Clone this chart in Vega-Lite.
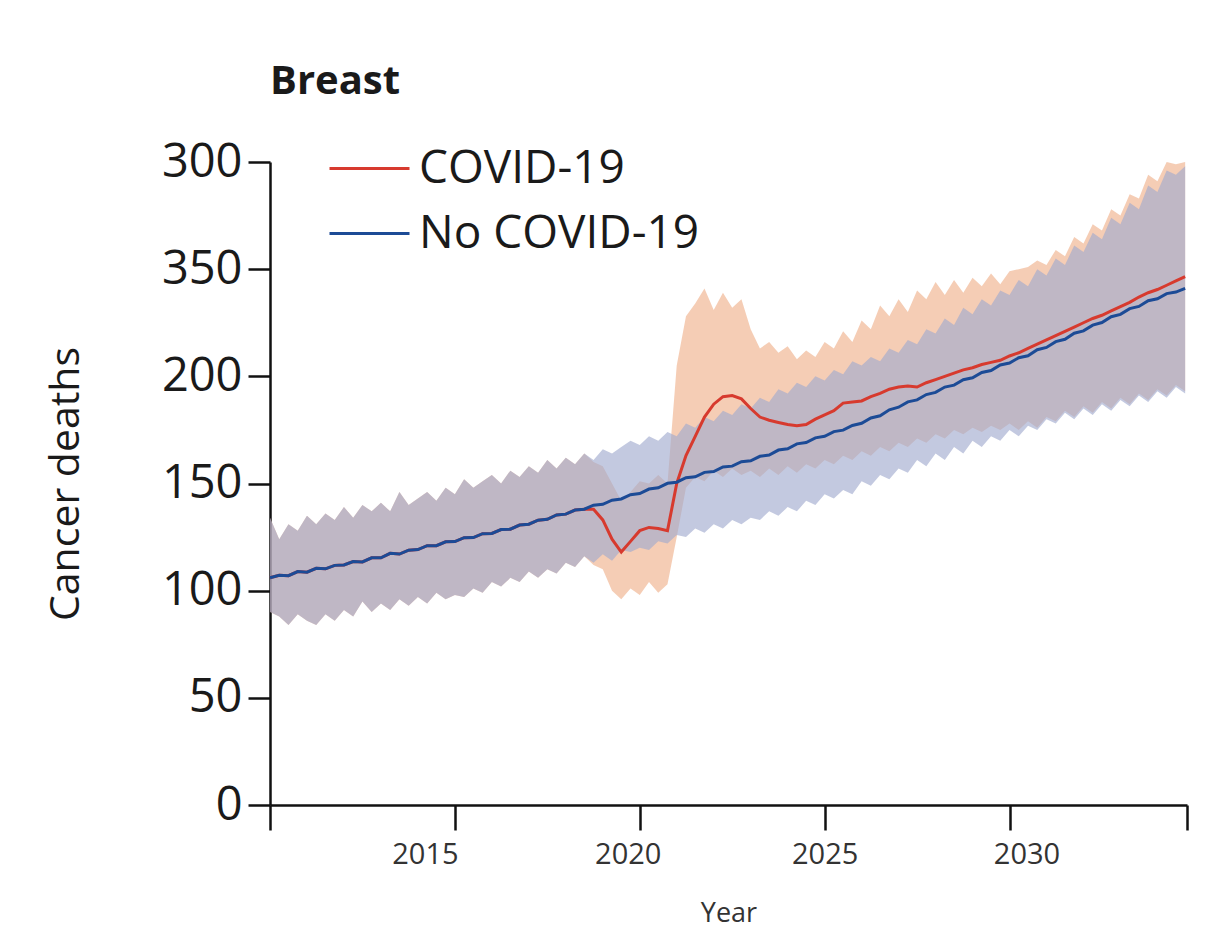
{
  "$schema": "https://vega.github.io/schema/vega-lite/v6.json",
  "width": 917,
  "height": 643,
  "autosize": {"type": "none"},
  "padding": {"left": 270, "top": 162, "right": 35, "bottom": 124},
  "background": "white",
  "title": {"text": "Breast", "anchor": "start", "font": "Open Sans", "fontSize": 40, "fontWeight": "bold", "color": "#1a1a1a", "offset": 25, "frame": "group"},
  "config": {"view": {"stroke": null}, "font": "Open Sans"},
  "data": {"values": [
    {"t":2010.00,"s":"No COVID-19","m":106.0,"lo":90,"hi":134},
    {"t":2010.25,"s":"No COVID-19","m":107.2,"lo":88,"hi":124},
    {"t":2010.50,"s":"No COVID-19","m":107.0,"lo":84,"hi":131},
    {"t":2010.75,"s":"No COVID-19","m":108.9,"lo":89,"hi":128},
    {"t":2011.00,"s":"No COVID-19","m":108.6,"lo":86,"hi":135},
    {"t":2011.25,"s":"No COVID-19","m":110.4,"lo":84,"hi":131},
    {"t":2011.50,"s":"No COVID-19","m":110.2,"lo":89,"hi":136},
    {"t":2011.75,"s":"No COVID-19","m":111.8,"lo":86,"hi":133},
    {"t":2012.00,"s":"No COVID-19","m":112.0,"lo":91,"hi":139},
    {"t":2012.25,"s":"No COVID-19","m":113.6,"lo":88,"hi":134},
    {"t":2012.50,"s":"No COVID-19","m":113.4,"lo":95,"hi":140},
    {"t":2012.75,"s":"No COVID-19","m":115.3,"lo":90,"hi":137},
    {"t":2013.00,"s":"No COVID-19","m":115.3,"lo":94,"hi":141},
    {"t":2013.25,"s":"No COVID-19","m":117.4,"lo":91,"hi":137},
    {"t":2013.50,"s":"No COVID-19","m":117.1,"lo":96,"hi":146},
    {"t":2013.75,"s":"No COVID-19","m":118.9,"lo":93,"hi":140},
    {"t":2014.00,"s":"No COVID-19","m":119.2,"lo":97,"hi":143},
    {"t":2014.25,"s":"No COVID-19","m":121.0,"lo":94,"hi":146},
    {"t":2014.50,"s":"No COVID-19","m":121.0,"lo":99,"hi":142},
    {"t":2014.75,"s":"No COVID-19","m":122.8,"lo":96,"hi":148},
    {"t":2015.00,"s":"No COVID-19","m":122.9,"lo":98,"hi":145},
    {"t":2015.25,"s":"No COVID-19","m":124.7,"lo":97,"hi":152},
    {"t":2015.50,"s":"No COVID-19","m":124.8,"lo":101,"hi":148},
    {"t":2015.75,"s":"No COVID-19","m":126.6,"lo":99,"hi":151},
    {"t":2016.00,"s":"No COVID-19","m":126.7,"lo":104,"hi":154},
    {"t":2016.25,"s":"No COVID-19","m":128.5,"lo":102,"hi":150},
    {"t":2016.50,"s":"No COVID-19","m":128.7,"lo":106,"hi":156},
    {"t":2016.75,"s":"No COVID-19","m":130.6,"lo":104,"hi":153},
    {"t":2017.00,"s":"No COVID-19","m":131.0,"lo":109,"hi":158},
    {"t":2017.25,"s":"No COVID-19","m":132.9,"lo":106,"hi":155},
    {"t":2017.50,"s":"No COVID-19","m":133.3,"lo":110,"hi":161},
    {"t":2017.75,"s":"No COVID-19","m":135.3,"lo":108,"hi":157},
    {"t":2018.00,"s":"No COVID-19","m":135.7,"lo":113,"hi":162},
    {"t":2018.25,"s":"No COVID-19","m":137.6,"lo":111,"hi":159},
    {"t":2018.50,"s":"No COVID-19","m":138.0,"lo":116,"hi":164},
    {"t":2018.75,"s":"No COVID-19","m":139.9,"lo":113,"hi":161},
    {"t":2019.00,"s":"No COVID-19","m":140.3,"lo":117,"hi":166},
    {"t":2019.25,"s":"No COVID-19","m":142.2,"lo":114,"hi":164},
    {"t":2019.50,"s":"No COVID-19","m":142.8,"lo":119,"hi":167},
    {"t":2019.75,"s":"No COVID-19","m":144.8,"lo":118,"hi":170},
    {"t":2020.00,"s":"No COVID-19","m":145.3,"lo":120,"hi":168},
    {"t":2020.25,"s":"No COVID-19","m":147.4,"lo":119,"hi":172},
    {"t":2020.50,"s":"No COVID-19","m":148.0,"lo":123,"hi":170},
    {"t":2020.75,"s":"No COVID-19","m":150.1,"lo":122,"hi":174},
    {"t":2021.00,"s":"No COVID-19","m":150.6,"lo":126,"hi":172},
    {"t":2021.25,"s":"No COVID-19","m":152.7,"lo":125,"hi":178},
    {"t":2021.50,"s":"No COVID-19","m":153.1,"lo":129,"hi":176},
    {"t":2021.75,"s":"No COVID-19","m":155.2,"lo":127,"hi":181},
    {"t":2022.00,"s":"No COVID-19","m":155.6,"lo":131,"hi":179},
    {"t":2022.25,"s":"No COVID-19","m":157.7,"lo":129,"hi":184},
    {"t":2022.50,"s":"No COVID-19","m":158.1,"lo":133,"hi":182},
    {"t":2022.75,"s":"No COVID-19","m":160.2,"lo":131,"hi":187},
    {"t":2023.00,"s":"No COVID-19","m":160.6,"lo":134,"hi":185},
    {"t":2023.25,"s":"No COVID-19","m":162.7,"lo":133,"hi":190},
    {"t":2023.50,"s":"No COVID-19","m":163.3,"lo":137,"hi":188},
    {"t":2023.75,"s":"No COVID-19","m":165.6,"lo":135,"hi":194},
    {"t":2024.00,"s":"No COVID-19","m":166.2,"lo":139,"hi":192},
    {"t":2024.25,"s":"No COVID-19","m":168.5,"lo":137,"hi":197},
    {"t":2024.50,"s":"No COVID-19","m":169.1,"lo":142,"hi":195},
    {"t":2024.75,"s":"No COVID-19","m":171.3,"lo":140,"hi":200},
    {"t":2025.00,"s":"No COVID-19","m":172.0,"lo":145,"hi":198},
    {"t":2025.25,"s":"No COVID-19","m":174.2,"lo":143,"hi":203},
    {"t":2025.50,"s":"No COVID-19","m":174.9,"lo":147,"hi":201},
    {"t":2025.75,"s":"No COVID-19","m":177.1,"lo":145,"hi":207},
    {"t":2026.00,"s":"No COVID-19","m":178.1,"lo":151,"hi":205},
    {"t":2026.25,"s":"No COVID-19","m":180.6,"lo":149,"hi":209},
    {"t":2026.50,"s":"No COVID-19","m":181.6,"lo":154,"hi":207},
    {"t":2026.75,"s":"No COVID-19","m":184.4,"lo":152,"hi":213},
    {"t":2027.00,"s":"No COVID-19","m":185.6,"lo":157,"hi":211},
    {"t":2027.25,"s":"No COVID-19","m":188.1,"lo":155,"hi":217},
    {"t":2027.50,"s":"No COVID-19","m":189.0,"lo":161,"hi":215},
    {"t":2027.75,"s":"No COVID-19","m":191.5,"lo":158,"hi":222},
    {"t":2028.00,"s":"No COVID-19","m":192.5,"lo":164,"hi":220},
    {"t":2028.25,"s":"No COVID-19","m":195.0,"lo":161,"hi":227},
    {"t":2028.50,"s":"No COVID-19","m":195.9,"lo":167,"hi":224},
    {"t":2028.75,"s":"No COVID-19","m":198.4,"lo":164,"hi":232},
    {"t":2029.00,"s":"No COVID-19","m":199.3,"lo":170,"hi":229},
    {"t":2029.25,"s":"No COVID-19","m":201.8,"lo":167,"hi":236},
    {"t":2029.50,"s":"No COVID-19","m":202.7,"lo":172,"hi":233},
    {"t":2029.75,"s":"No COVID-19","m":205.3,"lo":170,"hi":240},
    {"t":2030.00,"s":"No COVID-19","m":206.2,"lo":175,"hi":238},
    {"t":2030.25,"s":"No COVID-19","m":208.7,"lo":172,"hi":245},
    {"t":2030.50,"s":"No COVID-19","m":209.6,"lo":177,"hi":242},
    {"t":2030.75,"s":"No COVID-19","m":212.4,"lo":175,"hi":250},
    {"t":2031.00,"s":"No COVID-19","m":213.5,"lo":180,"hi":247},
    {"t":2031.25,"s":"No COVID-19","m":216.2,"lo":178,"hi":255},
    {"t":2031.50,"s":"No COVID-19","m":217.3,"lo":183,"hi":252},
    {"t":2031.75,"s":"No COVID-19","m":220.1,"lo":180,"hi":261},
    {"t":2032.00,"s":"No COVID-19","m":221.2,"lo":185,"hi":258},
    {"t":2032.25,"s":"No COVID-19","m":223.9,"lo":182,"hi":267},
    {"t":2032.50,"s":"No COVID-19","m":225.1,"lo":187,"hi":264},
    {"t":2032.75,"s":"No COVID-19","m":227.8,"lo":184,"hi":274},
    {"t":2033.00,"s":"No COVID-19","m":228.9,"lo":189,"hi":271},
    {"t":2033.25,"s":"No COVID-19","m":231.6,"lo":186,"hi":281},
    {"t":2033.50,"s":"No COVID-19","m":232.6,"lo":191,"hi":278},
    {"t":2033.75,"s":"No COVID-19","m":235.3,"lo":188,"hi":289},
    {"t":2034.00,"s":"No COVID-19","m":236.2,"lo":193,"hi":286},
    {"t":2034.25,"s":"No COVID-19","m":238.6,"lo":190,"hi":296},
    {"t":2034.50,"s":"No COVID-19","m":239.3,"lo":195,"hi":294},
    {"t":2034.75,"s":"No COVID-19","m":241.0,"lo":192,"hi":298},

    {"t":2010.00,"s":"COVID-19","m":106.0,"lo":90,"hi":134},
    {"t":2010.25,"s":"COVID-19","m":107.2,"lo":88,"hi":124},
    {"t":2010.50,"s":"COVID-19","m":107.0,"lo":84,"hi":131},
    {"t":2010.75,"s":"COVID-19","m":108.9,"lo":89,"hi":128},
    {"t":2011.00,"s":"COVID-19","m":108.6,"lo":86,"hi":135},
    {"t":2011.25,"s":"COVID-19","m":110.4,"lo":84,"hi":131},
    {"t":2011.50,"s":"COVID-19","m":110.2,"lo":89,"hi":136},
    {"t":2011.75,"s":"COVID-19","m":111.8,"lo":86,"hi":133},
    {"t":2012.00,"s":"COVID-19","m":112.0,"lo":91,"hi":139},
    {"t":2012.25,"s":"COVID-19","m":113.6,"lo":88,"hi":134},
    {"t":2012.50,"s":"COVID-19","m":113.4,"lo":95,"hi":140},
    {"t":2012.75,"s":"COVID-19","m":115.3,"lo":90,"hi":137},
    {"t":2013.00,"s":"COVID-19","m":115.3,"lo":94,"hi":141},
    {"t":2013.25,"s":"COVID-19","m":117.4,"lo":91,"hi":137},
    {"t":2013.50,"s":"COVID-19","m":117.1,"lo":96,"hi":146},
    {"t":2013.75,"s":"COVID-19","m":118.9,"lo":93,"hi":140},
    {"t":2014.00,"s":"COVID-19","m":119.2,"lo":97,"hi":143},
    {"t":2014.25,"s":"COVID-19","m":121.0,"lo":94,"hi":146},
    {"t":2014.50,"s":"COVID-19","m":121.0,"lo":99,"hi":142},
    {"t":2014.75,"s":"COVID-19","m":122.8,"lo":96,"hi":148},
    {"t":2015.00,"s":"COVID-19","m":122.9,"lo":98,"hi":145},
    {"t":2015.25,"s":"COVID-19","m":124.7,"lo":97,"hi":152},
    {"t":2015.50,"s":"COVID-19","m":124.8,"lo":101,"hi":148},
    {"t":2015.75,"s":"COVID-19","m":126.6,"lo":99,"hi":151},
    {"t":2016.00,"s":"COVID-19","m":126.7,"lo":104,"hi":154},
    {"t":2016.25,"s":"COVID-19","m":128.5,"lo":102,"hi":150},
    {"t":2016.50,"s":"COVID-19","m":128.7,"lo":106,"hi":156},
    {"t":2016.75,"s":"COVID-19","m":130.6,"lo":104,"hi":153},
    {"t":2017.00,"s":"COVID-19","m":131.0,"lo":109,"hi":158},
    {"t":2017.25,"s":"COVID-19","m":132.9,"lo":106,"hi":155},
    {"t":2017.50,"s":"COVID-19","m":133.3,"lo":110,"hi":161},
    {"t":2017.75,"s":"COVID-19","m":135.3,"lo":108,"hi":157},
    {"t":2018.00,"s":"COVID-19","m":135.7,"lo":113,"hi":162},
    {"t":2018.25,"s":"COVID-19","m":137.6,"lo":111,"hi":159},
    {"t":2018.50,"s":"COVID-19","m":138.0,"lo":116,"hi":164},
    {"t":2018.75,"s":"COVID-19","m":138.0,"lo":112,"hi":160},
    {"t":2019.00,"s":"COVID-19","m":133.0,"lo":110,"hi":158},
    {"t":2019.25,"s":"COVID-19","m":124.0,"lo":100,"hi":150},
    {"t":2019.50,"s":"COVID-19","m":118.0,"lo":96,"hi":142},
    {"t":2019.75,"s":"COVID-19","m":123.0,"lo":101,"hi":146},
    {"t":2020.00,"s":"COVID-19","m":128.0,"lo":98,"hi":151},
    {"t":2020.25,"s":"COVID-19","m":129.5,"lo":104,"hi":150},
    {"t":2020.50,"s":"COVID-19","m":129.0,"lo":99,"hi":154},
    {"t":2020.75,"s":"COVID-19","m":128.0,"lo":103,"hi":150},
    {"t":2021.00,"s":"COVID-19","m":150.0,"lo":125,"hi":205},
    {"t":2021.25,"s":"COVID-19","m":163.0,"lo":148,"hi":228},
    {"t":2021.50,"s":"COVID-19","m":172.0,"lo":153,"hi":234},
    {"t":2021.75,"s":"COVID-19","m":181.0,"lo":151,"hi":241},
    {"t":2022.00,"s":"COVID-19","m":187.0,"lo":156,"hi":231},
    {"t":2022.25,"s":"COVID-19","m":190.5,"lo":153,"hi":239},
    {"t":2022.50,"s":"COVID-19","m":191.0,"lo":157,"hi":232},
    {"t":2022.75,"s":"COVID-19","m":189.5,"lo":154,"hi":236},
    {"t":2023.00,"s":"COVID-19","m":185.0,"lo":156,"hi":222},
    {"t":2023.25,"s":"COVID-19","m":181.0,"lo":153,"hi":213},
    {"t":2023.50,"s":"COVID-19","m":179.5,"lo":157,"hi":216},
    {"t":2023.75,"s":"COVID-19","m":178.5,"lo":154,"hi":211},
    {"t":2024.00,"s":"COVID-19","m":177.5,"lo":158,"hi":214},
    {"t":2024.25,"s":"COVID-19","m":177.0,"lo":155,"hi":208},
    {"t":2024.50,"s":"COVID-19","m":177.5,"lo":159,"hi":212},
    {"t":2024.75,"s":"COVID-19","m":180.0,"lo":157,"hi":209},
    {"t":2025.00,"s":"COVID-19","m":182.0,"lo":161,"hi":216},
    {"t":2025.25,"s":"COVID-19","m":184.0,"lo":159,"hi":213},
    {"t":2025.50,"s":"COVID-19","m":187.5,"lo":163,"hi":221},
    {"t":2025.75,"s":"COVID-19","m":188.0,"lo":161,"hi":216},
    {"t":2026.00,"s":"COVID-19","m":188.5,"lo":165,"hi":226},
    {"t":2026.25,"s":"COVID-19","m":190.5,"lo":163,"hi":222},
    {"t":2026.50,"s":"COVID-19","m":192.0,"lo":167,"hi":233},
    {"t":2026.75,"s":"COVID-19","m":194.0,"lo":165,"hi":228},
    {"t":2027.00,"s":"COVID-19","m":195.0,"lo":169,"hi":236},
    {"t":2027.25,"s":"COVID-19","m":195.5,"lo":167,"hi":230},
    {"t":2027.50,"s":"COVID-19","m":195.0,"lo":171,"hi":240},
    {"t":2027.75,"s":"COVID-19","m":197.0,"lo":169,"hi":236},
    {"t":2028.00,"s":"COVID-19","m":198.5,"lo":173,"hi":244},
    {"t":2028.25,"s":"COVID-19","m":200.0,"lo":171,"hi":238},
    {"t":2028.50,"s":"COVID-19","m":201.5,"lo":175,"hi":245},
    {"t":2028.75,"s":"COVID-19","m":203.0,"lo":173,"hi":239},
    {"t":2029.00,"s":"COVID-19","m":204.0,"lo":176,"hi":246},
    {"t":2029.25,"s":"COVID-19","m":205.5,"lo":174,"hi":242},
    {"t":2029.50,"s":"COVID-19","m":206.5,"lo":177,"hi":248},
    {"t":2029.75,"s":"COVID-19","m":207.5,"lo":175,"hi":243},
    {"t":2030.00,"s":"COVID-19","m":209.5,"lo":178,"hi":249},
    {"t":2030.25,"s":"COVID-19","m":211.0,"lo":175,"hi":250},
    {"t":2030.50,"s":"COVID-19","m":213.0,"lo":179,"hi":251},
    {"t":2030.75,"s":"COVID-19","m":215.0,"lo":176,"hi":254},
    {"t":2031.00,"s":"COVID-19","m":217.0,"lo":181,"hi":252},
    {"t":2031.25,"s":"COVID-19","m":219.0,"lo":179,"hi":259},
    {"t":2031.50,"s":"COVID-19","m":221.0,"lo":184,"hi":256},
    {"t":2031.75,"s":"COVID-19","m":223.0,"lo":181,"hi":265},
    {"t":2032.00,"s":"COVID-19","m":225.0,"lo":186,"hi":262},
    {"t":2032.25,"s":"COVID-19","m":227.0,"lo":183,"hi":271},
    {"t":2032.50,"s":"COVID-19","m":228.5,"lo":188,"hi":268},
    {"t":2032.75,"s":"COVID-19","m":230.5,"lo":185,"hi":278},
    {"t":2033.00,"s":"COVID-19","m":232.5,"lo":190,"hi":275},
    {"t":2033.25,"s":"COVID-19","m":234.5,"lo":187,"hi":285},
    {"t":2033.50,"s":"COVID-19","m":237.0,"lo":192,"hi":283},
    {"t":2033.75,"s":"COVID-19","m":239.0,"lo":189,"hi":294},
    {"t":2034.00,"s":"COVID-19","m":240.5,"lo":194,"hi":291},
    {"t":2034.25,"s":"COVID-19","m":242.5,"lo":191,"hi":300},
    {"t":2034.50,"s":"COVID-19","m":244.5,"lo":196,"hi":299},
    {"t":2034.75,"s":"COVID-19","m":246.5,"lo":193,"hi":300}
  ]},
  "encoding": {
    "x": {
      "field": "t", "type": "quantitative",
      "scale": {"domain": [2010, 2034.8], "nice": false, "zero": false},
      "axis": {
        "title": "Year", "values": [2010, 2015, 2020, 2025, 2030, 2034.8],
        "labelExpr": "datum.value == 2010 || datum.value > 2034 ? '' : format(datum.value, 'd')",
        "grid": false, "domainColor": "#111", "domainWidth": 2.5, "tickColor": "#111", "tickWidth": 2.5, "tickSize": 25,
        "labelFont": "Open Sans", "labelFontSize": 29, "labelColor": "#333", "labelPadding": 10,
        "labelOffset": {"condition": [{"test": "datum.value == 2015", "value": -30}, {"test": "datum.value == 2020", "value": -12}, {"test": "datum.value == 2030", "value": 17}], "value": 0},
        "titleFont": "Open Sans", "titleFontSize": 27, "titleFontWeight": "normal", "titleColor": "#333", "titlePadding": 31
      }
    },
    "y": {
      "type": "quantitative",
      "scale": {"domain": [0, 300], "nice": false},
      "axis": {
        "title": "Cancer deaths", "values": [0, 50, 100, 150, 200, 250, 300],
        "labelExpr": "datum.value == 250 ? '350' : datum.label",
        "grid": false, "domainColor": "#111", "domainWidth": 2.5, "tickColor": "#111", "tickWidth": 2.5, "tickSize": 22,
        "labelFont": "Open Sans", "labelFontSize": 47, "labelColor": "#1a1a1a", "labelPadding": 6,
        "titleFont": "Open Sans", "titleFontSize": 41, "titleFontWeight": "normal", "titleColor": "#1a1a1a", "titlePadding": 74
      }
    }
  },
  "layer": [
    {
      "transform": [{"filter": "datum.s == 'COVID-19'"}],
      "mark": {"type": "area", "color": "#eb9b6b", "opacity": 0.5},
      "encoding": {"y": {"field": "lo"}, "y2": {"field": "hi"}}
    },
    {
      "transform": [{"filter": "datum.s == 'No COVID-19'"}],
      "mark": {"type": "area", "color": "#a0a9ce", "opacity": 0.63},
      "encoding": {"y": {"field": "lo"}, "y2": {"field": "hi"}}
    },
    {
      "transform": [{"filter": "datum.s == 'COVID-19'"}],
      "mark": {"type": "line", "strokeWidth": 3},
      "encoding": {
        "y": {"field": "m"},
        "color": {"datum": "COVID-19", "type": "nominal",
          "scale": {"domain": ["COVID-19", "No COVID-19"], "range": ["#d73a2e", "#1c4b96"]},
          "legend": {"title": null, "orient": "none", "legendX": 58, "legendY": -35, "padding": 0,
            "symbolType": "stroke", "symbolSize": 6400, "symbolStrokeWidth": 3,
            "labelFont": "Open Sans", "labelFontSize": 46, "labelColor": "#1a1a1a", "labelOffset": 8, "labelLimit": 500, "rowPadding": -3}
        }
      }
    },
    {
      "transform": [{"filter": "datum.s == 'No COVID-19'"}],
      "mark": {"type": "line", "strokeWidth": 3},
      "encoding": {
        "y": {"field": "m"},
        "color": {"datum": "No COVID-19", "type": "nominal"}
      }
    }
  ]
}
